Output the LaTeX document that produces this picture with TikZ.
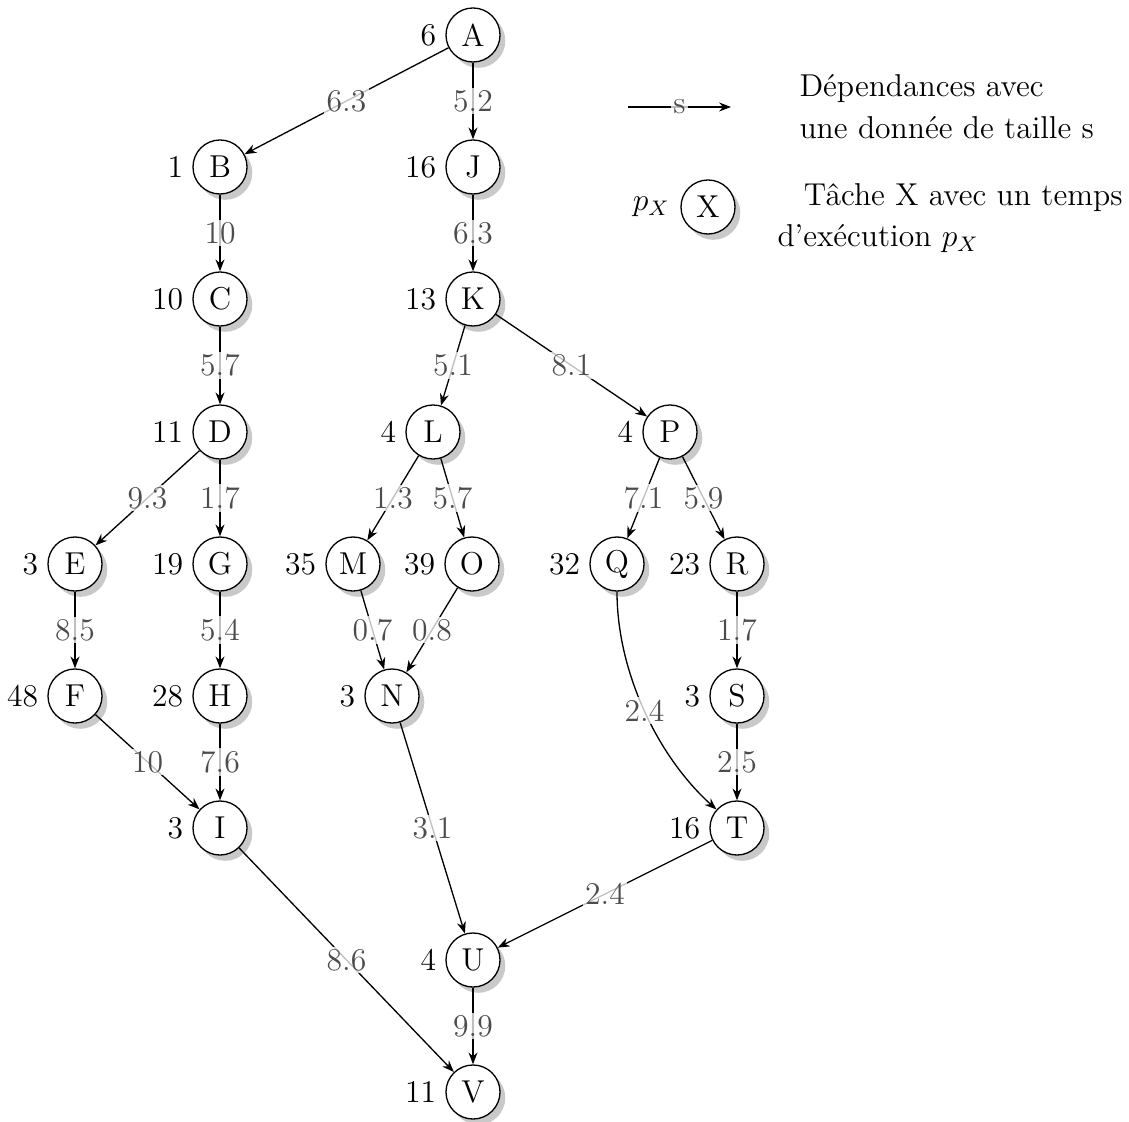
\documentclass[tikz,border=0pt]{standalone}
\usetikzlibrary{arrows.meta,shadows}
\begin{document}
\begin{tikzpicture}[x=0.01333cm,y=-0.01333cm,font=\large,
  task/.style={circle,draw,fill=white,minimum size=20.5pt,inner sep=0pt,line width=0.5pt,
    drop shadow={shadow xshift=2pt,shadow yshift=-2.2pt,fill=black!21,opacity=1},
    label distance=2pt},
  dep/.style={line width=0.5pt,-{Stealth[length=4.5pt,width=3.4pt]}},
  wl/.style={fill=white,fill opacity=0.75,text opacity=1,text=black!70,inner sep=1pt}]
\useasboundingbox (0,0) rectangle (1129,1122);
% nodes
\node[task,label=left:6] (A) at (473,35) {A};
\node[task,label=left:1] (B) at (220,167) {B};
\node[task,label=left:16] (J) at (473,167) {J};
\node[task,label=left:10] (C) at (220,299) {C};
\node[task,label=left:13] (K) at (473,299) {K};
\node[task,label=left:11] (D) at (220,432) {D};
\node[task,label=left:4] (L) at (433,432) {L};
\node[task,label=left:4] (P) at (670,432) {P};
\node[task,label=left:3] (E) at (75,564) {E};
\node[task,label=left:19] (G) at (220,564) {G};
\node[task,label=left:35] (M) at (353,564) {M};
\node[task,label=left:39] (O) at (472,564) {O};
\node[task,label=left:32] (Q) at (617,564) {Q};
\node[task,label=left:23] (R) at (737,564) {R};
\node[task,label=left:48] (F) at (75,696) {F};
\node[task,label=left:28] (H) at (220,696) {H};
\node[task,label=left:3] (N) at (392,696) {N};
\node[task,label=left:3] (S) at (737,696) {S};
\node[task,label=left:3] (I) at (220,828) {I};
\node[task,label=left:16] (T) at (737,828) {T};
\node[task,label=left:4] (U) at (473,960) {U};
\node[task,label=left:11] (V) at (473,1092) {V};
% edges
\draw[dep] (A) -- node[wl]{6.3} (B);
\draw[dep] (A) -- node[wl]{5.2} (J);
\draw[dep] (B) -- node[wl]{10} (C);
\draw[dep] (J) -- node[wl]{6.3} (K);
\draw[dep] (C) -- node[wl]{5.7} (D);
\draw[dep] (K) -- node[wl]{5.1} (L);
\draw[dep] (K) -- node[wl]{8.1} (P);
\draw[dep] (D) -- node[wl]{9.3} (E);
\draw[dep] (D) -- node[wl]{1.7} (G);
\draw[dep] (L) -- node[wl]{1.3} (M);
\draw[dep] (L) -- node[wl]{5.7} (O);
\draw[dep] (P) -- node[wl]{7.1} (Q);
\draw[dep] (P) -- node[wl]{5.9} (R);
\draw[dep] (E) -- node[wl]{8.5} (F);
\draw[dep] (G) -- node[wl]{5.4} (H);
\draw[dep] (M) -- node[wl]{0.7} (N);
\draw[dep] (O) -- node[wl]{0.8} (N);
\draw[dep] (R) -- node[wl]{1.7} (S);
\draw[dep] (Q) to[out=-90,in=138,looseness=0.85] node[wl]{2.4} (T);
\draw[dep] (F) -- node[wl]{10} (I);
\draw[dep] (H) -- node[wl]{7.6} (I);
\draw[dep] (S) -- node[wl]{2.5} (T);
\draw[dep] (I) -- node[wl]{8.6} (V);
\draw[dep] (N) -- node[wl]{3.1} (U);
\draw[dep] (T) -- node[wl]{2.4} (U);
\draw[dep] (U) -- node[wl]{9.9} (V);
% legend
\coordinate (l1) at (628,107);
\coordinate (l2) at (731,107);
\draw[dep] (l1) -- node[wl]{s} (l2);
\node[anchor=west,align=left,inner sep=0pt] (t1) at (799,107) {D\'ependances avec\\[2pt]une donn\'ee de taille s};
\node[task,label={[label distance=0.5pt]left:$p_X$}] (X) at (708,207) {X};
\node[anchor=west,align=left,inner sep=0pt] (t2) at (777,218) {\hspace{10pt}T\^ache X avec un temps\\[1.5pt]d'ex\'ecution $p_X$};
\end{tikzpicture}
\end{document}
